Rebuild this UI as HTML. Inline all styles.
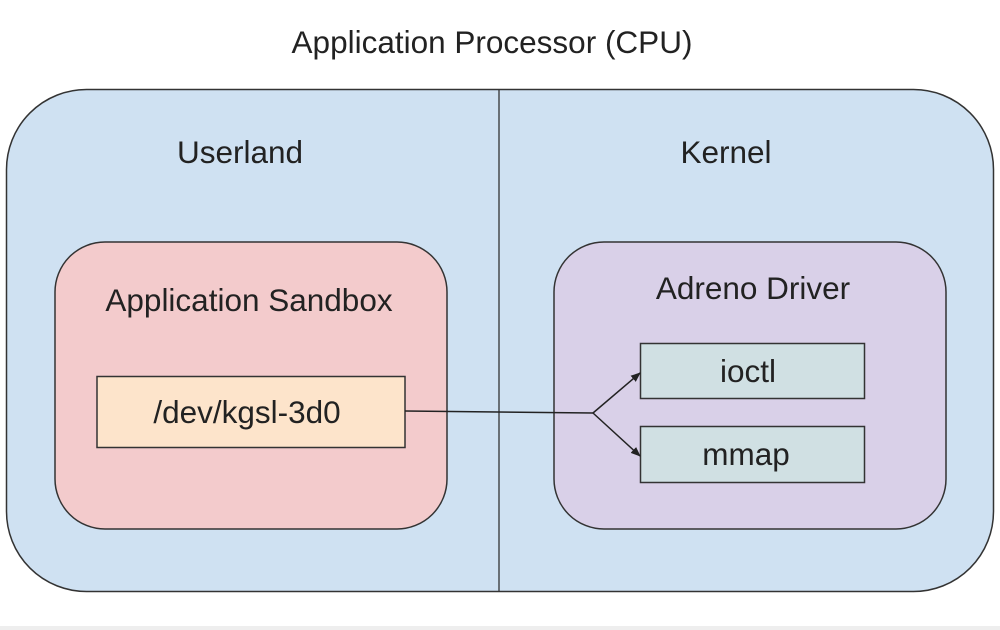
<!DOCTYPE html>
<html><head><style>
html,body{margin:0;padding:0;background:#fff;}
svg{display:block;}
text{font-family:"Liberation Sans",Arial,sans-serif;fill:#222;text-anchor:middle;}
</style></head><body>
<svg width="1000" height="630" viewBox="0 0 1000 630">
<defs><marker id="a" markerWidth="10" markerHeight="8" refX="9" refY="4" orient="auto" markerUnits="userSpaceOnUse"><path d="M0,0 L10,4 L0,8 z" fill="#222"/></marker></defs>
<rect x="0" y="626" width="1000" height="4" fill="#eeeeee"/>
<text x="492" y="53" font-size="31.5">Application Processor (CPU)</text>
<rect x="6.5" y="89.5" width="987" height="502" rx="80" ry="80" fill="#cfe1f2" stroke="#333" stroke-width="1.5"/>
<line x1="499" y1="90" x2="499" y2="591" stroke="#333" stroke-width="1.3"/>
<text x="240" y="163" font-size="31.5">Userland</text>
<text x="726" y="163" font-size="31.5">Kernel</text>
<rect x="55" y="242" width="392" height="287" rx="50" ry="50" fill="#f3cbcc" stroke="#333" stroke-width="1.5"/>
<rect x="554" y="242" width="392" height="287" rx="50" ry="50" fill="#d9d0e8" stroke="#333" stroke-width="1.5"/>
<text x="249" y="311" font-size="31.5">Application Sandbox</text>
<text x="753" y="299" font-size="31.5">Adreno Driver</text>
<rect x="97" y="376.5" width="308" height="71" fill="#fde4cb" stroke="#333" stroke-width="1.5"/>
<text x="247" y="423" font-size="31.5">/dev/kgsl-3d0</text>
<rect x="640.5" y="343.5" width="224" height="55" fill="#d0e0e3" stroke="#333" stroke-width="1.5"/>
<text x="748" y="382" font-size="31.5">ioctl</text>
<rect x="640.5" y="426.5" width="224" height="56" fill="#d0e0e3" stroke="#333" stroke-width="1.5"/>
<text x="746" y="465" font-size="31.5">mmap</text>
<polyline points="405,411 593,413" fill="none" stroke="#222" stroke-width="1.5"/>
<line x1="593" y1="413" x2="640" y2="373" stroke="#222" stroke-width="1.5" marker-end="url(#a)"/>
<line x1="593" y1="413" x2="640" y2="456" stroke="#222" stroke-width="1.5" marker-end="url(#a)"/>
</svg>
</body></html>
